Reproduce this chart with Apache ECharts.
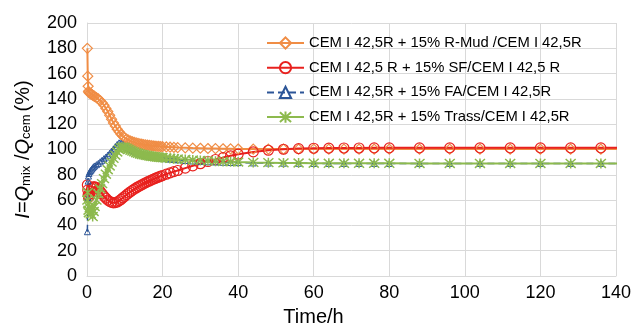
<!DOCTYPE html>
<html>
<head>
<meta charset="utf-8">
<script src="https://cdn.jsdelivr.net/npm/echarts@6/dist/echarts.min.js"></script>
<style>
  html, body { margin: 0; padding: 0; background: #ffffff; }
  #chart { width: 632px; height: 326px; }
</style>
</head>
<body>
<div id="chart"></div>
<script>
// Hydration time of the measurement points (h)
const hours = [
  0.1, 0.2, 0.3, 0.4, 0.5, 0.75, 1, 1.25, 1.5, 1.75, 2,
  2.5, 3, 3.5, 4, 4.5, 5, 5.5, 6, 6.5, 7, 7.5, 8, 8.5, 9, 9.5, 10,
  10.5, 11, 11.5, 12, 12.5, 13, 13.5, 14, 14.5, 15, 15.5, 16, 16.5, 17, 17.5, 18, 18.5, 19, 19.5, 20,
  21, 22, 23, 24,
  26, 28, 30, 32, 34, 36, 38, 40,
  44, 48, 52, 56, 60, 64, 68, 72, 76, 80,
  88, 96, 104, 112, 120, 128, 136, 144
];

// Heat-flow ratio I (%) of each blended cement against the plain CEM I 42,5R
const rMud = [
  180, 158, 150, 146, 145, 144.5, 144, 143.5, 143, 142.5, 142,
  141, 140, 138.5, 137, 135, 132.5, 130, 127, 124, 121, 118.5, 116, 114, 112, 110.5, 109.2,
  108.2, 107.4, 106.7, 106.1, 105.6, 105.2, 104.8, 104.5, 104.2, 103.9, 103.6, 103.4, 103.2, 103, 102.8, 102.7, 102.5, 102.4, 102.3, 102.2,
  102, 101.8, 101.7, 101.5,
  101.3, 101.1, 101, 100.8, 100.7, 100.6, 100.5, 100.4,
  100.3, 100.3, 100.3, 100.3, 100.3, 100.3, 100.3, 100.3, 100.3, 100.3,
  100.3, 100.3, 100.3, 100.3, 100.3, 100.3, 100.3, 100.3
];
const sf = [
  72, 68, 64, 62, 63, 65, 67, 69, 70, 70.5, 70.5,
  70, 68.5, 67, 65, 63, 61.5, 60, 59, 58.2, 57.8, 58, 58.5, 59.5, 60.5, 61.8, 63,
  64.3, 65.5, 66.6, 67.7, 68.7, 69.6, 70.5, 71.3, 72.1, 72.9, 73.7, 74.4, 75.1, 75.8, 76.5, 77.1, 77.7, 78.3, 78.9, 79.4,
  80.5, 81.5, 82.5, 83.4,
  85.3, 87.1, 88.8, 90.5, 92.1, 93.6, 95, 96.3,
  98.1, 99.4, 100.2, 100.7, 101, 101.1, 101.2, 101.2, 101.3, 101.3,
  101.3, 101.3, 101.3, 101.3, 101.3, 101.3, 101.3, 101.3
];
const fa = [
  35, 62, 75, 79, 81, 82.5, 83.5, 84.5, 85.5, 86.3, 87,
  88, 89, 90.3, 91.5, 92.8, 94, 95.5, 97, 98.8, 100.5, 102.3, 104, 105.3, 105, 104, 102.8,
  101.8, 100.8, 100, 99.2, 98.5, 97.8, 97.2, 96.6, 96.1, 95.7, 95.3, 95, 94.7, 94.4, 94.1, 93.9, 93.7, 93.5, 93.3, 93.1,
  92.7, 92.4, 92.1, 91.8,
  91.3, 90.9, 90.6, 90.3, 90.1, 89.9, 89.7, 89.6,
  89.4, 89.3, 89.2, 89.1, 89, 89, 89, 89, 89, 89,
  89, 89, 89, 89, 89, 89, 89, 89
];
const trass = [
  60, 66, 57, 52, 50, 54, 49, 53, 47, 51, 55,
  60, 65, 69, 73, 77, 80.5, 84, 87, 90, 93, 95.5, 98, 100, 101.5, 102, 101.8,
  101, 100.2, 99.4, 98.7, 98.1, 97.5, 97, 96.5, 96.1, 95.8, 95.5, 95.2, 94.9, 94.7, 94.5, 94.3, 94.1, 93.9, 93.7, 93.6,
  93.3, 93, 92.8, 92.5,
  92.1, 91.7, 91.4, 91.1, 90.8, 90.5, 90.3, 90.1,
  89.8, 89.6, 89.4, 89.3, 89.2, 89.1, 89.1, 89.1, 89.1, 89.1,
  89, 89, 89, 89, 89, 89, 89, 89
];

const seriesNames = [
  'CEM I 42,5R + 15% R-Mud /CEM I 42,5R',
  'CEM I 42,5 R + 15% SF/CEM I 42,5 R',
  'CEM I 42,5R + 15% FA/CEM I 42,5R',
  'CEM I 42,5R + 15% Trass/CEM I 42,5R'
];

// Axis ticks
const xTicks = [0, 20, 40, 60, 80, 100, 120, 140];
const yTicks = [0, 20, 40, 60, 80, 100, 120, 140, 160, 180, 200];

const FONT = '"Liberation Sans", Arial, Helvetica, sans-serif';
const GRID_COLOR = '#d9d9d9';
// asterisk marker: vertical stroke plus a cross
const STAR = 'path://M5,0L5,10M0.6,0.6L9.4,9.4M0.6,9.4L9.4,0.6';

function pairs(values) {
  return hours.map(function (h, i) { return [h, values[i]]; });
}

function makeSeries(name, values, color, symbol, size, markerWidth, lineStyle) {
  return {
    name: name,
    type: 'line',
    data: pairs(values),
    symbol: symbol,
    symbolSize: size,
    showSymbol: true,
    showAllSymbol: true,
    clip: true,
    lineStyle: Object.assign({ color: color, width: 2 }, lineStyle || {}),
    itemStyle: { color: 'rgba(255,255,255,0)', borderColor: color, borderWidth: markerWidth },
    emphasis: { disabled: true },
    silent: true
  };
}

const chart = echarts.init(document.getElementById('chart'), null, { renderer: 'canvas' });

chart.setOption({
  animation: false,
  backgroundColor: '#ffffff',
  textStyle: { fontFamily: FONT },
  grid: { left: 87, right: 16, top: 23, bottom: 50, containLabel: false, outerBoundsMode: 'none' },
  legend: {
    orient: 'vertical',
    left: 266,
    top: 35.5,
    padding: 0,
    itemWidth: 37,
    itemHeight: 14,
    itemGap: 9.7,
    selectedMode: false,
    textStyle: { fontFamily: FONT, fontSize: 14.8, lineHeight: 15, color: '#000000' },
    data: seriesNames
  },
  xAxis: {
    type: 'value',
    min: xTicks[0],
    max: xTicks[xTicks.length - 1],
    interval: xTicks[1] - xTicks[0],
    name: 'Time/h',
    nameLocation: 'middle',
    nameGap: 31,
    nameTextStyle: { fontFamily: FONT, fontSize: 20, color: '#000000', padding: [0, 76, 0, 0] },
    axisLine: { show: true, lineStyle: { color: GRID_COLOR, width: 1 } },
    axisTick: { show: false },
    axisLabel: { fontFamily: FONT, fontSize: 18, color: '#000000', margin: 8 },
    splitLine: { show: true, lineStyle: { color: GRID_COLOR, width: 1 } }
  },
  yAxis: {
    type: 'value',
    min: yTicks[0],
    max: yTicks[yTicks.length - 1],
    interval: yTicks[1] - yTicks[0],
    name: '{it|I}{n|=}{it|Q}{sub|mix}{n| /}{it|Q}{sub|cem}{p|(%)}',
    nameLocation: 'middle',
    nameGap: 54,
    nameTextStyle: {
      fontFamily: FONT,
      fontSize: 20,
      color: '#000000',
      rich: {
        it: { fontFamily: FONT, fontSize: 20, fontStyle: 'italic', lineHeight: 20, verticalAlign: 'top', color: '#000000' },
        n: { fontFamily: FONT, fontSize: 20, lineHeight: 20, verticalAlign: 'top', color: '#000000' },
        p: { fontFamily: FONT, fontSize: 20, lineHeight: 20, verticalAlign: 'top', color: '#000000', padding: [0, 0, 0, 3] },
        sub: { fontFamily: FONT, fontSize: 13, lineHeight: 13, verticalAlign: 'bottom', padding: [10, 0, 0, 0], color: '#000000' }
      }
    },
    axisLine: { show: true, lineStyle: { color: GRID_COLOR, width: 1 } },
    axisTick: { show: false },
    axisLabel: { fontFamily: FONT, fontSize: 18, color: '#000000', margin: 10 },
    splitLine: { show: true, lineStyle: { color: GRID_COLOR, width: 1 } }
  },
  series: [
    makeSeries(seriesNames[0], rMud, '#F08D45', 'diamond', 10, 1.2),
    makeSeries(seriesNames[1], sf, '#E8211E', 'circle', 10, 1.2),
    makeSeries(seriesNames[2], fa, '#2C5597', 'triangle', 6, 1, { type: [7, 4], width: 1.5 }),
    makeSeries(seriesNames[3], trass, '#8DBA4E', STAR, 10, 1.5)
  ]
});
</script>
</body>
</html>
